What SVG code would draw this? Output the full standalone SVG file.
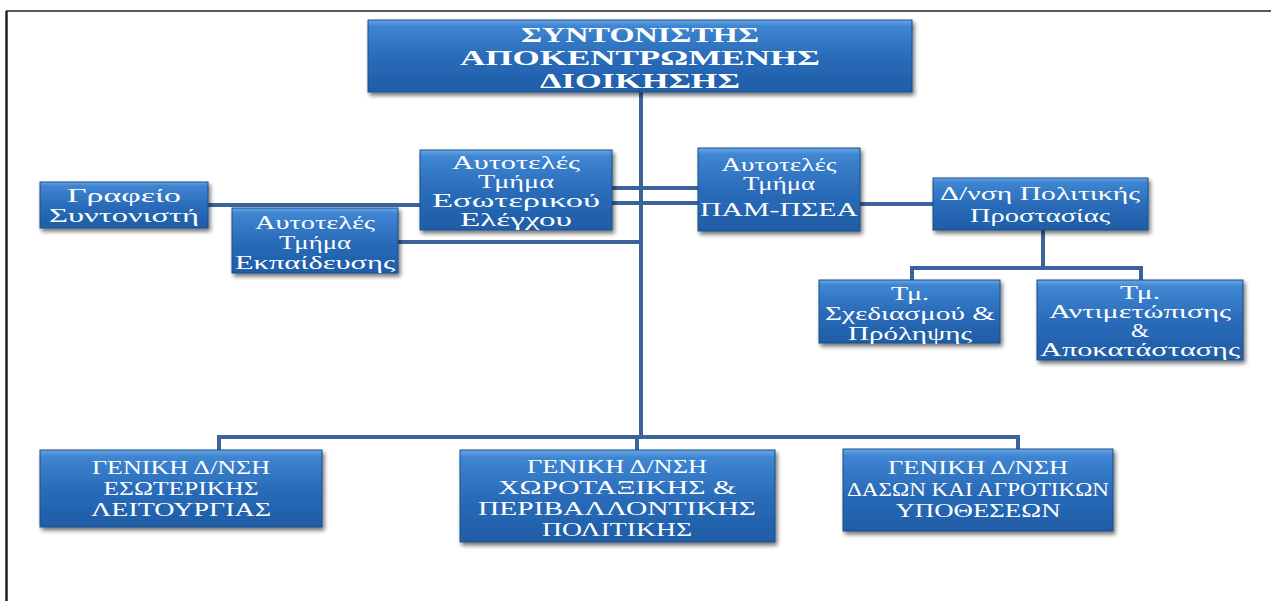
<svg xmlns="http://www.w3.org/2000/svg" width="1271" height="601" viewBox="0 0 1271 601">
<defs>
<linearGradient id="boxg" x1="0" y1="0" x2="0" y2="1">
<stop offset="0" stop-color="#6aa6e6"/>
<stop offset="0.08" stop-color="#3f86d2"/>
<stop offset="0.5" stop-color="#2a6cba"/>
<stop offset="1" stop-color="#1f5da6"/>
</linearGradient>
<filter id="sh" x="-10%" y="-10%" width="125%" height="135%">
<feGaussianBlur in="SourceAlpha" stdDeviation="2"/>
<feOffset dx="2" dy="3" result="b"/>
<feComponentTransfer><feFuncA type="linear" slope="0.55"/></feComponentTransfer>
<feMerge><feMergeNode/><feMergeNode in="SourceGraphic"/></feMerge>
</filter>
</defs>
<style>
.box{fill:url(#boxg);stroke:#1c4f8c;stroke-width:1;filter:url(#sh)}
.t{font-family:"Liberation Serif","DejaVu Serif","Times New Roman",serif;font-size:19px;fill:#ffffff;text-anchor:middle}
.tb{font-family:"Liberation Serif","DejaVu Serif","Times New Roman",serif;font-size:22px;font-weight:bold;fill:#ffffff;text-anchor:middle}
.c{fill:none;stroke:#3c639c;stroke-width:4}
.page{fill:none;stroke:#222;}
</style>
<rect width="1271" height="601" fill="#ffffff"/>
<path class="page" d="M6 11 H1271" stroke-width="1.5"/>
<path class="page" d="M6.5 11 V601" stroke-width="2.5" stroke="#444"/>

<g id="connectors">
<path class="c" d="M641 92 V437"/>
<path class="c" d="M219 450 V437 H1018 V449"/>
<path class="c" d="M637 437 V450"/>
<path class="c" d="M208 205 H420"/>
<path class="c" d="M398 242 H641"/>
<path class="c" d="M612 188 H698"/>
<path class="c" d="M612 203 H698"/>
<path class="c" d="M860 204 H933"/>
<path class="c" d="M1043 230 V268"/>
<path class="c" d="M912 280 V268 H1141 V280"/>
</g>

<g id="top">
<rect class="box" x="368" y="20" width="544" height="72"/>
<text class="tb" x="640" y="42" textLength="238" lengthAdjust="spacingAndGlyphs">ΣΥΝΤΟΝΙΣΤΗΣ</text>
<text class="tb" x="640" y="65" textLength="360" lengthAdjust="spacingAndGlyphs">ΑΠΟΚΕΝΤΡΩΜΕΝΗΣ</text>
<text class="tb" x="640" y="88" textLength="200" lengthAdjust="spacingAndGlyphs">ΔΙΟΙΚΗΣΗΣ</text>
</g>

<g id="grafeio">
<rect class="box" x="40" y="182" width="168" height="46"/>
<text class="t" x="124" y="202" textLength="114" lengthAdjust="spacingAndGlyphs">Γραφείο</text>
<text class="t" x="124" y="222" textLength="150" lengthAdjust="spacingAndGlyphs">Συντονιστή</text>
</g>

<g id="ekpaideusi">
<rect class="box" x="232" y="208" width="166" height="65"/>
<text class="t" x="315" y="229" textLength="120" lengthAdjust="spacingAndGlyphs">Αυτοτελές</text>
<text class="t" x="315" y="249" textLength="72" lengthAdjust="spacingAndGlyphs">Τμήμα</text>
<text class="t" x="315" y="269" textLength="160" lengthAdjust="spacingAndGlyphs">Εκπαίδευσης</text>
</g>

<g id="eswterikos">
<rect class="box" x="420" y="150" width="192" height="80"/>
<text class="t" x="516" y="169" textLength="128" lengthAdjust="spacingAndGlyphs">Αυτοτελές</text>
<text class="t" x="516" y="188" textLength="76" lengthAdjust="spacingAndGlyphs">Τμήμα</text>
<text class="t" x="516" y="207" textLength="168" lengthAdjust="spacingAndGlyphs">Εσωτερικού</text>
<text class="t" x="516" y="226" textLength="112" lengthAdjust="spacingAndGlyphs">Ελέγχου</text>
</g>

<g id="pam">
<rect class="box" x="698" y="148" width="162" height="83"/>
<text class="t" x="779" y="171" textLength="115" lengthAdjust="spacingAndGlyphs">Αυτοτελές</text>
<text class="t" x="779" y="190" textLength="72" lengthAdjust="spacingAndGlyphs">Τμήμα</text>
<text class="t" x="779" y="216" textLength="158" lengthAdjust="spacingAndGlyphs">ΠΑΜ-ΠΣΕΑ</text>
</g>

<g id="politiki">
<rect class="box" x="933" y="178" width="215" height="52"/>
<text class="t" x="1040" y="200" textLength="200" lengthAdjust="spacingAndGlyphs">Δ/νση Πολιτικής</text>
<text class="t" x="1040" y="222" textLength="140" lengthAdjust="spacingAndGlyphs">Προστασίας</text>
</g>

<g id="sxediasmos">
<rect class="box" x="819" y="280" width="181" height="63"/>
<text class="t" x="910" y="300" textLength="38" lengthAdjust="spacingAndGlyphs">Τμ.</text>
<text class="t" x="910" y="320" textLength="170" lengthAdjust="spacingAndGlyphs">Σχεδιασμού &amp;</text>
<text class="t" x="910" y="340" textLength="124" lengthAdjust="spacingAndGlyphs">Πρόληψης</text>
</g>

<g id="antimetwpisi">
<rect class="box" x="1037" y="280" width="206" height="80"/>
<text class="t" x="1140" y="299" textLength="40" lengthAdjust="spacingAndGlyphs">Τμ.</text>
<text class="t" x="1140" y="318" textLength="182" lengthAdjust="spacingAndGlyphs">Αντιμετώπισης</text>
<text class="t" x="1140" y="337" textLength="18" lengthAdjust="spacingAndGlyphs">&amp;</text>
<text class="t" x="1140" y="356" textLength="200" lengthAdjust="spacingAndGlyphs">Αποκατάστασης</text>
</g>

<g id="gd-eswterikis">
<rect class="box" x="40" y="450" width="282" height="77"/>
<text class="t" x="181" y="474" textLength="178" lengthAdjust="spacingAndGlyphs">ΓΕΝΙΚΗ Δ/ΝΣΗ</text>
<text class="t" x="181" y="495" textLength="155" lengthAdjust="spacingAndGlyphs">ΕΣΩΤΕΡΙΚΗΣ</text>
<text class="t" x="181" y="516" textLength="180" lengthAdjust="spacingAndGlyphs">ΛΕΙΤΟΥΡΓΙΑΣ</text>
</g>

<g id="gd-xwrotaxikis">
<rect class="box" x="460" y="450" width="315" height="92"/>
<text class="t" x="617" y="473" textLength="180" lengthAdjust="spacingAndGlyphs">ΓΕΝΙΚΗ Δ/ΝΣΗ</text>
<text class="t" x="617" y="494" textLength="238" lengthAdjust="spacingAndGlyphs">ΧΩΡΟΤΑΞΙΚΗΣ &amp;</text>
<text class="t" x="617" y="515" textLength="278" lengthAdjust="spacingAndGlyphs">ΠΕΡΙΒΑΛΛΟΝΤΙΚΗΣ</text>
<text class="t" x="617" y="536" textLength="150" lengthAdjust="spacingAndGlyphs">ΠΟΛΙΤΙΚΗΣ</text>
</g>

<g id="gd-daswn">
<rect class="box" x="843" y="449" width="270" height="82"/>
<text class="t" x="978" y="474" textLength="180" lengthAdjust="spacingAndGlyphs">ΓΕΝΙΚΗ Δ/ΝΣΗ</text>
<text class="t" x="978" y="496" textLength="262" lengthAdjust="spacingAndGlyphs">ΔΑΣΩΝ ΚΑΙ ΑΓΡΟΤΙΚΩΝ</text>
<text class="t" x="978" y="517" textLength="165" lengthAdjust="spacingAndGlyphs">ΥΠΟΘΕΣΕΩΝ</text>
</g>
</svg>
